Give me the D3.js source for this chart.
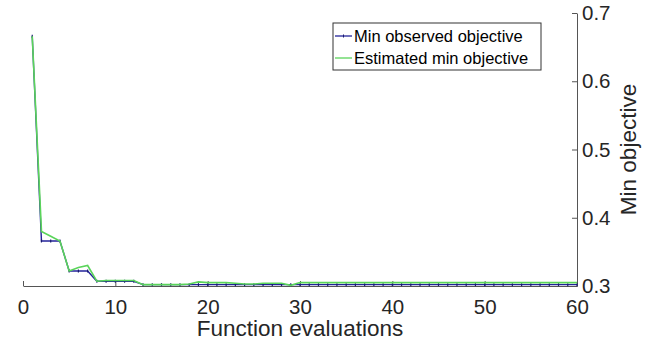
<!DOCTYPE html>
<html>
<head>
<meta charset="utf-8">
<script src="https://cdn.jsdelivr.net/npm/d3@7"></script>
<style>
  body { margin: 0; background: #fff; }
  svg { display: block; font-family: "Liberation Sans", Arial, sans-serif; }
</style>
</head>
<body>
<svg id="chart" width="646" height="348"></svg>
<script>
// function evaluation index 1..60
var evals = d3.range(1, 61);

// min observed objective (blue)
var minObserved = [
    0.666, 0.366, 0.366, 0.366, 0.322, 0.322, 0.322, 0.307, 0.307, 0.307,
    0.307, 0.307, 0.302, 0.302, 0.302, 0.302, 0.302, 0.302, 0.302, 0.302,
    0.302, 0.302, 0.302, 0.302, 0.302, 0.302, 0.302, 0.302, 0.302, 0.302,
    0.302, 0.302, 0.302, 0.302, 0.302, 0.302, 0.302, 0.302, 0.302, 0.302,
    0.302, 0.302, 0.302, 0.302, 0.302, 0.302, 0.302, 0.302, 0.302, 0.302,
    0.302, 0.302, 0.302, 0.302, 0.302, 0.302, 0.302, 0.302, 0.302, 0.302
];

// estimated min objective (green)
var estimatedMin = [
    0.666, 0.380, 0.373, 0.366, 0.322, 0.327, 0.330, 0.307, 0.308, 0.308,
    0.308, 0.308, 0.302, 0.302, 0.302, 0.302, 0.302, 0.303, 0.306, 0.305,
    0.305, 0.305, 0.304, 0.303, 0.303, 0.304, 0.304, 0.304, 0.301, 0.305,
    0.305, 0.305, 0.305, 0.305, 0.305, 0.305, 0.305, 0.305, 0.305, 0.305,
    0.305, 0.305, 0.305, 0.305, 0.305, 0.305, 0.305, 0.305, 0.305, 0.305,
    0.305, 0.305, 0.305, 0.305, 0.305, 0.305, 0.305, 0.305, 0.305, 0.305
];

var xTicks = [0, 10, 20, 30, 40, 50, 60];
var yTicks = [0.3, 0.4, 0.5, 0.6, 0.7];
var seriesNames = ['Min observed objective', 'Estimated min objective'];
var seriesColors = ['#23239a', '#5ad45a'];

(function() {
    var svg = d3.select('#chart');
    var axisColor = '#555555';

    var x = d3.scaleLinear().domain([0, 60]).range([23, 577]);
    var y = d3.scaleLinear().domain([0.3, 0.7]).range([286, 13]);

    // x axis, ticks pointing inward (up)
    var gx = svg.append('g')
        .attr('transform', 'translate(0,' + y(0.3) + ')')
        .call(d3.axisBottom(x).tickValues(xTicks).tickSizeInner(-5).tickSizeOuter(0).tickPadding(13));
    gx.select('.domain').attr('stroke', axisColor);
    gx.selectAll('.tick line').attr('stroke', axisColor);
    gx.selectAll('.tick text')
        .attr('fill', '#262626')
        .style('font-size', '20.5px')
        .attr('dy', '0.71em');

    // y axis on the right, ticks pointing inward (left)
    var gy = svg.append('g')
        .attr('transform', 'translate(' + x(60) + ',0)')
        .call(d3.axisRight(y).tickValues(yTicks).tickFormat(d3.format('.1f')).tickSizeInner(-5).tickSizeOuter(0).tickPadding(5));
    gy.select('.domain').attr('stroke', axisColor);
    gy.selectAll('.tick line').attr('stroke', axisColor);
    gy.selectAll('.tick text')
        .attr('fill', '#262626')
        .style('font-size', '20.5px');

    svg.append('text')
        .attr('x', (x(0) + x(60)) / 2)
        .attr('y', 336)
        .attr('text-anchor', 'middle')
        .attr('fill', '#262626')
        .style('font-size', '22.5px')
        .text('Function evaluations');

    svg.append('text')
        .attr('transform', 'translate(636,' + ((y(0.3) + y(0.7)) / 2) + ') rotate(-90)')
        .attr('text-anchor', 'middle')
        .attr('fill', '#262626')
        .style('font-size', '22.5px')
        .text('Min objective');

    var line = d3.line()
        .x(function(d) { return x(d[0]); })
        .y(function(d) { return y(d[1]); });

    var blueData = evals.map(function(e, i) { return [e, minObserved[i]]; });
    var greenData = evals.map(function(e, i) { return [e, estimatedMin[i]]; });

    svg.append('path')
        .datum(blueData)
        .attr('fill', 'none')
        .attr('stroke', seriesColors[0])
        .attr('stroke-width', 1.4)
        .attr('d', line);

    svg.selectAll('.obs-dot')
        .data(blueData)
        .enter().append('line')
        .attr('class', 'obs-dot')
        .attr('x1', function(d) { return x(d[0]); })
        .attr('x2', function(d) { return x(d[0]); })
        .attr('y1', function(d) { return y(d[1]) - 1.5; })
        .attr('y2', function(d) { return y(d[1]) + 1.5; })
        .attr('stroke', '#1a1a70')
        .attr('stroke-width', 1.2);

    svg.append('path')
        .datum(greenData)
        .attr('fill', 'none')
        .attr('stroke', seriesColors[1])
        .attr('stroke-width', 1.6)
        .attr('d', line);

    // legend
    var legend = svg.append('g').attr('transform', 'translate(333,23)');
    legend.append('rect')
        .attr('width', 208)
        .attr('height', 47)
        .attr('fill', '#fff')
        .attr('stroke', '#333')
        .attr('stroke-width', 1);
    seriesNames.forEach(function(name, i) {
        var ly = 13 + i * 22;
        legend.append('line')
            .attr('x1', 2).attr('x2', 19)
            .attr('y1', ly).attr('y2', ly)
            .attr('stroke', seriesColors[i])
            .attr('stroke-width', 1.3);
        if (i === 0) {
            legend.append('line')
                .attr('x1', 10.5).attr('x2', 10.5)
                .attr('y1', ly - 1.5).attr('y2', ly + 1.5)
                .attr('stroke', '#1a1a70');
        }
        legend.append('text')
            .attr('x', 21)
            .attr('y', ly)
            .attr('dy', '0.35em')
            .attr('fill', '#000')
            .style('font-size', '16.5px')
            .text(name);
    });
})();
</script>
</body>
</html>
